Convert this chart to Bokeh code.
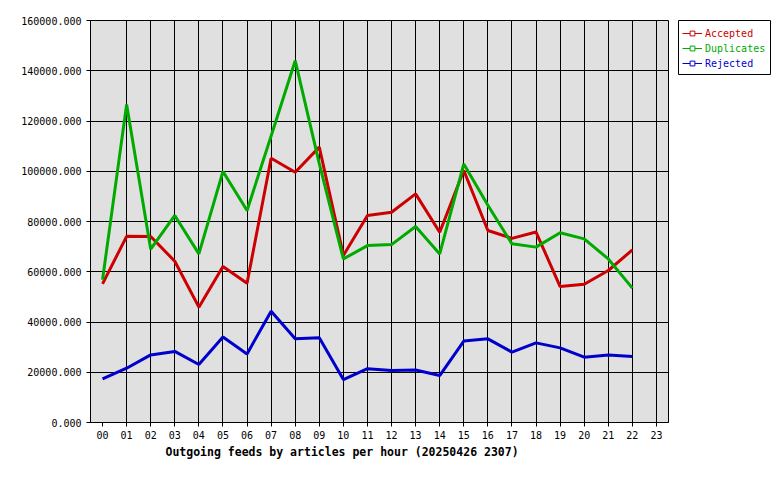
from bokeh.plotting import figure
from bokeh.layouts import row
from bokeh.models import (FixedTicker, PrintfTickFormatter, Legend, LegendItem,
                          Title, Range1d)
from bokeh.embed import file_html
from bokeh.resources import INLINE

hours = ["%02d" % h for h in range(24)]
present = hours[:23]

accepted = [55200, 74100, 74000, 64200, 45900, 62100, 55400, 105200, 99600, 109600,
            66500, 82400, 83700, 91000, 75700, 100300, 76400, 73300, 75800, 54100,
            55000, 60500, 68700]
duplicates = [56800, 126600, 69000, 82400, 67100, 99900, 84400, 114000, 144000, 103000,
              65100, 70400, 70800, 78000, 67100, 102900, 86500, 71100, 69800, 75500,
              73100, 65100, 53500]
rejected = [17400, 21600, 26900, 28300, 23100, 34000, 27300, 44300, 33300, 33700,
            17100, 21400, 20700, 20900, 18700, 32400, 33300, 28000, 31700, 29700,
            26000, 26900, 26300]

series_names = ["Accepted", "Duplicates", "Rejected"]
series_values = [accepted, duplicates, rejected]
series_colors = ["#cc0000", "#00aa00", "#0000cc"]

y_ticks = list(range(0, 160001, 20000))
title_text = "Outgoing feeds by articles per hour (20250426 2307)"

FONT = "DejaVu Sans Mono"
NAN = float("nan")

p = figure(x_range=hours, y_range=Range1d(0, 160000),
           frame_width=578, frame_height=402,
           min_border_left=90, min_border_right=10, min_border_top=20, min_border_bottom=52,
           output_backend="svg", toolbar_location=None)
p.x_range.range_padding = 0
p.background_fill_color = "#e0e0e0"
p.border_fill_color = "white"
p.outline_line_color = "black"
p.outline_line_width = 1

for ax in (p.xaxis[0], p.yaxis[0]):
    ax.axis_line_color = "black"
    ax.major_tick_line_color = "black"
    ax.major_tick_in = 0
    ax.major_tick_out = 4
    ax.minor_tick_line_color = None
    ax.major_label_text_font = FONT
    ax.major_label_text_font_size = "10px"
    ax.major_label_text_color = "black"
p.xaxis.major_label_standoff = 4
p.yaxis.major_label_standoff = 5
p.yaxis.ticker = FixedTicker(ticks=y_ticks)
p.yaxis.formatter = PrintfTickFormatter(format="%.3f")

p.xgrid.grid_line_color = "black"
p.ygrid.grid_line_color = "black"
p.xgrid.grid_line_width = 1
p.ygrid.grid_line_width = 1
p.ygrid.ticker = FixedTicker(ticks=y_ticks)

for vals, col in zip(series_values, series_colors):
    p.line(x=present, y=vals, line_color=col, line_width=3)

p.add_layout(Title(text=title_text, align="left", offset=75, standoff=2,
                   text_font=FONT, text_font_size="11.5px", text_font_style="bold",
                   text_color="black"), "below")

# legend panel
lf = figure(x_range=Range1d(0, 1), y_range=Range1d(0, 1),
            frame_width=92, frame_height=55,
            min_border_left=0, min_border_right=2, min_border_top=20, min_border_bottom=0,
            x_axis_type=None, y_axis_type=None,
            output_backend="svg", toolbar_location=None)
lf.background_fill_color = "white"
lf.border_fill_color = "white"
lf.outline_line_color = "black"
lf.outline_line_width = 1
lf.grid.visible = False

bottoms = [36, 21, 6]
for name, col, bot in zip(series_names, series_colors, bottoms):
    r = lf.line(x=[NAN], y=[NAN], line_color=col, line_width=1)
    m = lf.scatter(x=[NAN], y=[NAN], marker="square", size=3, line_color=col,
                   fill_color="white", line_width=1)
    lg = Legend(items=[LegendItem(label=name, renderers=[r, m])],
                location=(4, bot), border_line_color=None,
                background_fill_alpha=0, padding=0, margin=0, spacing=0,
                glyph_width=20, glyph_height=12, label_standoff=3,
                label_height=12,
                label_text_font=FONT, label_text_font_size="10px",
                label_text_color=col)
    lf.add_layout(lg, "center")

layout = row(p, lf)
open("out.html", "w").write(file_html(layout, INLINE))
